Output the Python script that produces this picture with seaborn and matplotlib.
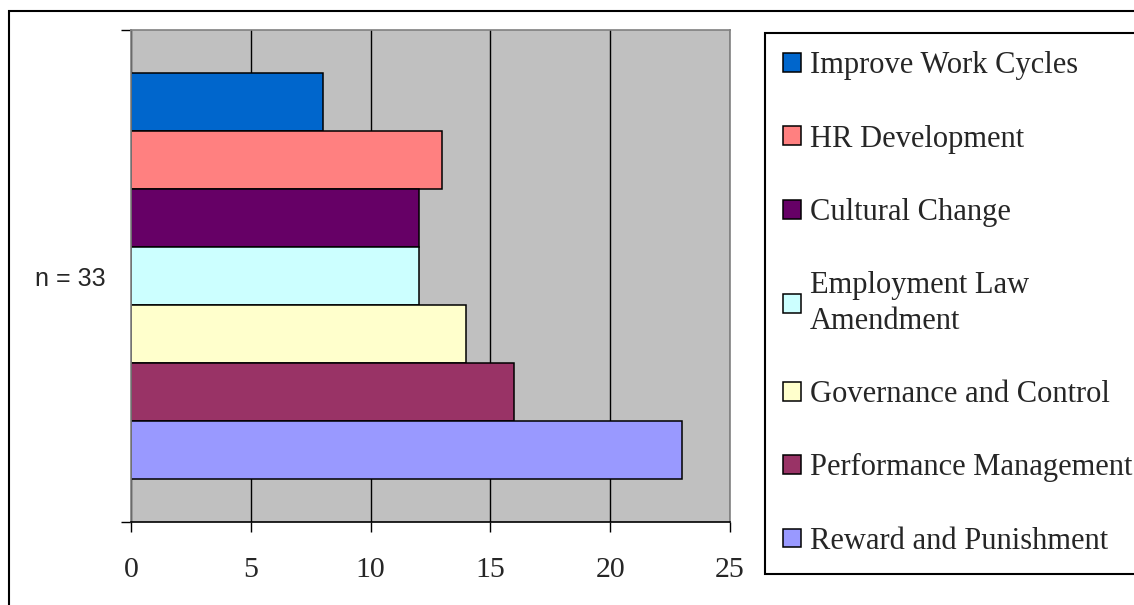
import textwrap

import matplotlib.pyplot as plt
import pandas as pd
import seaborn as sns

# Data
group = "n = 33"
measures = [
    "Improve Work Cycles",
    "HR Development",
    "Cultural Change",
    "Employment Law Amendment",
    "Governance and Control",
    "Performance Management",
    "Reward and Punishment",
]
counts = [8, 13, 12, 12, 14, 16, 23]
colors = ["#0066CC", "#FF8080", "#660066", "#CCFFFF", "#FFFFCC", "#993366", "#9999FF"]
x_ticks = [0, 5, 10, 15, 20, 25]

df = pd.DataFrame({"group": [group] * len(measures), "measure": measures, "count": counts})

sns.set_style("white")
plt.rcParams["font.family"] = ["Liberation Serif", "DejaVu Serif"]

fig = plt.figure(figsize=(11.34, 6.05), dpi=100)
ax = fig.add_axes([131 / 1134, 1 - 522 / 605, 599 / 1134, 492 / 605])
ax.set_facecolor("#C0C0C0")

sns.barplot(data=df, x="count", y="group", hue="measure", hue_order=measures,
            palette=dict(zip(measures, colors)), saturation=1, orient="h", width=0.825,
            edgecolor="black", linewidth=1.1, ax=ax)

# grab the legend seaborn made, then rebuild it outside the axes
leg = ax.get_legend()
handles = leg.legend_handles
labels = [textwrap.fill(t.get_text(), 22) for t in leg.get_texts()]
leg.remove()
for h in handles:
    h.set_edgecolor("black")
    h.set_linewidth(1.1)

# x axis
ax.set_xlim(0, 25)
ax.set_xticks(x_ticks)
ax.set_xticklabels([str(t) for t in x_ticks], fontsize=21.5)
ax.tick_params(axis="x", direction="out", length=7, width=1, color="black", pad=18, bottom=True)
ax.grid(axis="x", color="black", linewidth=1.0)
ax.grid(axis="y", visible=False)
ax.set_axisbelow(True)

# y axis: one category, ticks at the band edges
ax.set_ylim(0.5, -0.5)
ax.set_yticks([0])
ax.set_yticklabels([group], fontsize=18, family=["Liberation Sans", "DejaVu Sans"])
ax.tick_params(axis="y", which="major", length=0, pad=18)
ax.set_yticks([-0.5, 0.5], minor=True)
ax.tick_params(axis="y", which="minor", direction="out", length=7, width=1, color="black", left=True)
ax.set_xlabel("")
ax.set_ylabel("")

for side in ["top", "right", "left"]:
    ax.spines[side].set_color("#808080")
    ax.spines[side].set_linewidth(1.2)
ax.spines["bottom"].set_color("black")
ax.spines["bottom"].set_linewidth(1.2)

lg = fig.legend(handles, labels, loc="upper left",
                bbox_to_anchor=(765 / 1134, 0.0, 0.5, 1 - 33 / 605),
                mode="expand", borderaxespad=0, fontsize=22,
                labelspacing=1.45, borderpad=0.6, handlelength=0.57,
                handleheight=0.57, handletextpad=0.3, fancybox=False,
                framealpha=1, edgecolor="black")
lg.get_frame().set_linewidth(1.5)
for t in lg.get_texts():
    t.set_linespacing(1.3)

# outer chart border
fig.patches.append(plt.Rectangle((9 / 1134, -0.1), 1.2, 1.1 - 11 / 605, transform=fig.transFigure,
                                 fill=False, edgecolor="black", linewidth=1.5))

fig.savefig("out.png", dpi=100)
